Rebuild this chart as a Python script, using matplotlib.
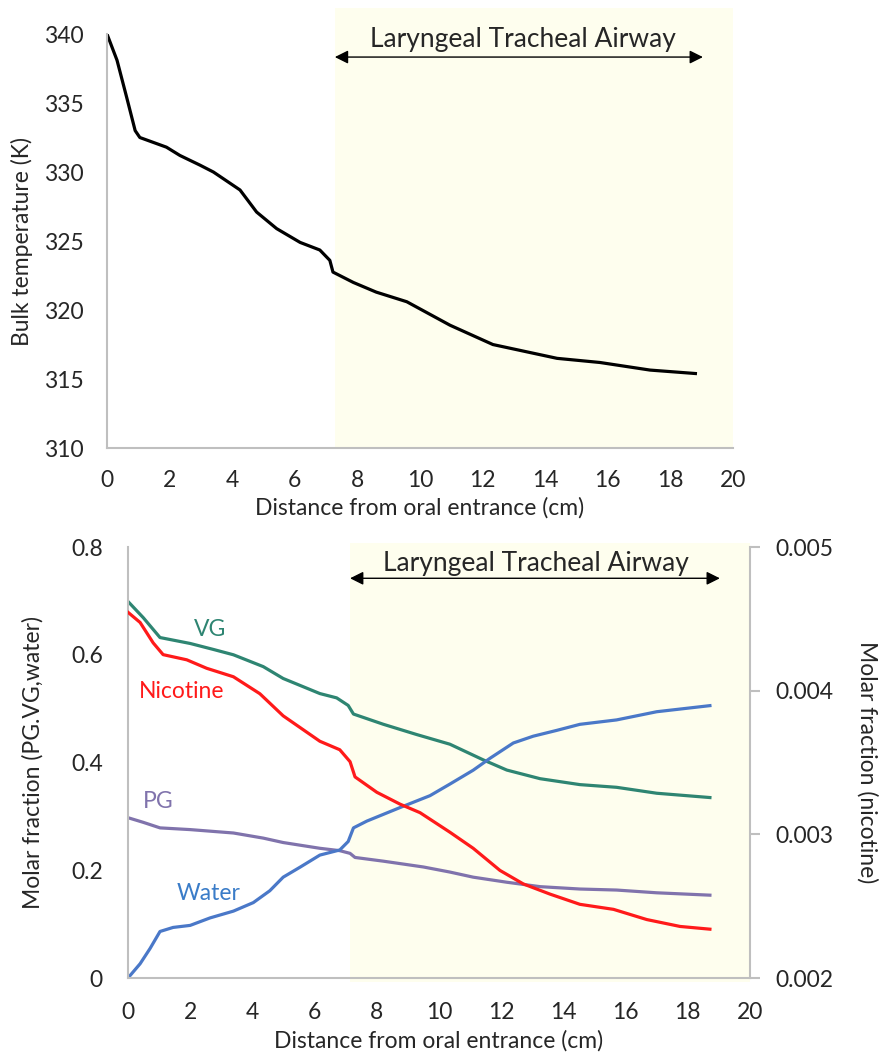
import numpy as np
import matplotlib
matplotlib.use("Agg")
import matplotlib.pyplot as plt
from matplotlib.patches import Rectangle

plt.rcParams['font.family'] = ['Lato', 'DejaVu Sans']

# ---- top panel data: bulk temperature (K) vs distance (cm)
x_temp = [0, 0.32, 0.63, 0.9, 1.05, 1.9, 2.33, 2.97, 3.4, 4.25, 4.78, 5.42, 6.17,
          6.8, 7.12, 7.22, 7.87, 8.6, 9.58, 10.96, 12.33, 14.38, 15.75, 17.35, 18.8]
temp = [340, 338.1, 335.4, 333.0, 332.5, 331.8, 331.2, 330.5, 330.0, 328.7, 327.1,
        325.9, 324.9, 324.35, 323.6, 322.75, 322.0, 321.3, 320.6, 318.9, 317.5,
        316.5, 316.2, 315.65, 315.4]

# ---- bottom panel data: molar fractions
x_vg = [0, 0.49, 1.03, 2.0, 2.74, 3.39, 4.35, 4.99, 6.17, 6.71, 7.08, 7.25, 8.21,
        9.28, 10.35, 11.42, 12.18, 13.25, 14.53, 15.71, 17.0, 18.71]
vg = [0.699, 0.669, 0.632, 0.621, 0.610, 0.600, 0.578, 0.556, 0.528, 0.520, 0.506,
      0.490, 0.471, 0.452, 0.434, 0.405, 0.386, 0.370, 0.359, 0.354, 0.343, 0.335]

x_nic = [0, 0.39, 0.81, 1.13, 1.89, 2.53, 3.39, 4.24, 4.99, 6.17, 6.81, 7.14, 7.30,
         8.0, 8.75, 9.39, 10.35, 11.10, 11.96, 12.71, 13.57, 14.53, 15.61, 16.68,
         17.75, 18.71]
nicotine = [0.004546, 0.004475, 0.004333, 0.004251, 0.004215, 0.004156, 0.004097,
            0.003979, 0.003825, 0.003648, 0.003589, 0.003506, 0.003400, 0.003293,
            0.003210, 0.003151, 0.003015, 0.002903, 0.002749, 0.002655, 0.002584,
            0.002513, 0.002478, 0.002407, 0.002359, 0.002340]

x_pg = [0, 0.49, 1.03, 2.0, 3.39, 4.35, 4.99, 6.17, 6.81, 7.14, 7.30, 8.21, 9.5,
        10.35, 11.10, 12.18, 13.25, 14.53, 15.71, 17.0, 18.71]
pg = [0.2976, 0.289, 0.2787, 0.2755, 0.2692, 0.2597, 0.2515, 0.2408, 0.2364, 0.2314,
      0.2238, 0.2169, 0.2061, 0.1967, 0.1872, 0.1778, 0.1696, 0.1652, 0.1633, 0.1582,
      0.1538]

x_water = [0, 0.39, 0.71, 1.03, 1.45, 2.0, 2.64, 3.39, 4.03, 4.56, 4.99, 5.54, 6.17,
           6.81, 7.08, 7.25, 7.68, 8.75, 9.71, 10.35, 11.10, 11.64, 12.39, 13.03,
           13.78, 14.53, 15.71, 17.0, 18.71]
water = [0, 0.0265, 0.0548, 0.0864, 0.0939, 0.0977, 0.1116, 0.1242, 0.140, 0.162,
         0.1872, 0.206, 0.2282, 0.2377, 0.2534, 0.2787, 0.2913, 0.3165, 0.3385, 0.360,
         0.3858, 0.4079, 0.4363, 0.4489, 0.4596, 0.4709, 0.4791, 0.4943, 0.5056]

region_start_top, region_start_bot = 7.28, 7.14
region_label = "Laryngeal Tracheal Airway"

shade = '#FEFEEE'
spine_c = '#BFBFBF'
txt_c = '#262626'
fs = 16.5      # tick labels / curve labels
fs_lab = 16.5  # axis titles
fs_reg = 19    # region label

fig = plt.figure(figsize=(8.85, 10.53), dpi=100)

# ---------------- top panel
ax1 = fig.add_axes([0.1209, 0.5745, 0.7073, 0.3932])
ax1.add_patch(Rectangle((region_start_top, 310), 20 - region_start_top, 31.9,
                        facecolor=shade, edgecolor='none', clip_on=False, zorder=0))
ax1.plot(x_temp, temp, color='black', lw=2.3, solid_joinstyle='round', zorder=3)
ax1.set_xlim(0, 20)
ax1.set_ylim(310, 340)
ax1.set_xticks(range(0, 21, 2))
ax1.set_yticks(range(310, 341, 5))
for s in ['top', 'right']:
    ax1.spines[s].set_visible(False)
for s in ['left', 'bottom']:
    ax1.spines[s].set_color(spine_c)
    ax1.spines[s].set_linewidth(1.5)
    ax1.spines[s].set_zorder(4)
ax1.tick_params(length=0, labelsize=fs, colors=txt_c, pad=17)
ax1.tick_params(axis='x', pad=16)
ax1.set_xlabel("Distance from oral entrance (cm)", fontsize=fs_lab, color=txt_c, labelpad=4)
ax1.set_ylabel("Bulk temperature (K)", fontsize=fs_lab, color=txt_c, labelpad=8)
ax1.annotate('', xy=(region_start_top, 338.33), xytext=(19.04, 338.33),
             arrowprops=dict(arrowstyle='<|-|>', color='black', lw=1,
                             mutation_scale=20, shrinkA=0, shrinkB=0))
ax1.text(13.3, 339.6, region_label, fontsize=fs_reg, color=txt_c,
         ha='center', va='center')

# ---------------- bottom panel
ax2 = fig.add_axes([0.1446, 0.0712, 0.7029, 0.4093])
ax2.add_patch(Rectangle((region_start_bot, -0.007), 20 - region_start_bot, 0.814,
                        facecolor=shade, edgecolor='none', clip_on=False, zorder=0))
ax2.plot(x_vg, vg, color='#2E8572', lw=2.3, solid_joinstyle='round', zorder=3)
ax2.plot(x_pg, pg, color='#8073AC', lw=2.3, solid_joinstyle='round', zorder=3)
ax2.plot(x_water, water, color='#4A78C8', lw=2.3, solid_joinstyle='round', zorder=3)
ax2.set_xlim(0, 20)
ax2.set_ylim(0, 0.8)
ax2.set_xticks(range(0, 21, 2))
ax2.set_yticks([0, 0.2, 0.4, 0.6, 0.8])
ax2.set_yticklabels(['0', '0.2', '0.4', '0.6', '0.8'])
for s in ['top', 'right']:
    ax2.spines[s].set_visible(False)
for s in ['left', 'bottom']:
    ax2.spines[s].set_color(spine_c)
    ax2.spines[s].set_linewidth(1.5)
    ax2.spines[s].set_zorder(4)
ax2.tick_params(length=0, labelsize=fs, colors=txt_c, pad=18)
ax2.tick_params(axis='x', pad=17)
ax2.set_xlabel("Distance from oral entrance (cm)", fontsize=fs_lab, color=txt_c, labelpad=5)
ax2.set_ylabel("Molar fraction (PG.VG,water)", fontsize=fs_lab, color=txt_c, labelpad=20)

ax3 = ax2.twinx()
ax3.plot(x_nic, nicotine, color='#FF1A1A', lw=2.3, solid_joinstyle='round', zorder=3)
ax3.set_ylim(0.002, 0.005)
ax3.set_yticks([0.002, 0.003, 0.004, 0.005])
ax3.set_yticklabels(['0.002', '0.003', '0.004', '0.005'])
for s in ['top', 'left', 'bottom']:
    ax3.spines[s].set_visible(False)
ax3.spines['right'].set_color(spine_c)
ax3.spines['right'].set_linewidth(1.5)
ax3.tick_params(axis='y', length=7, width=1.5, color=spine_c, labelsize=fs,
                labelcolor=txt_c, pad=11)
ax3.set_ylabel("Molar fraction (nicotine)", fontsize=fs_lab, color=txt_c,
               rotation=270, labelpad=32)

ax2.annotate('', xy=(region_start_bot, 0.742), xytext=(19.03, 0.742),
             arrowprops=dict(arrowstyle='<|-|>', color='black', lw=1,
                             mutation_scale=20, shrinkA=0, shrinkB=0))
ax2.text(13.13, 0.770, region_label, fontsize=fs_reg, color=txt_c,
         ha='center', va='center')

ax2.text(2.64, 0.646, "VG", color='#2E8572', fontsize=fs, ha='center', va='center')
ax2.text(1.73, 0.531, "Nicotine", color='#FF1A1A', fontsize=fs, ha='center', va='center')
ax2.text(0.97, 0.327, "PG", color='#8073AC', fontsize=fs, ha='center', va='center')
ax2.text(2.58, 0.157, "Water", color='#3A7CC8', fontsize=fs, ha='center', va='center')

fig.savefig("out.png", dpi=100, facecolor='white')
